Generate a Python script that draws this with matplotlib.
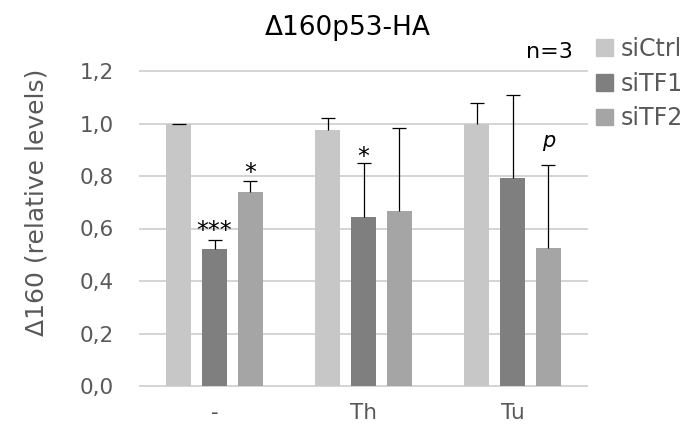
import matplotlib.pyplot as plt
import numpy as np
from matplotlib.patches import Patch

# data
categories = ['-', 'Th', 'Tu']
series_names = ['siCtrl', 'siTF1', 'siTF2']
siCtrl = [1.0, 0.976, 1.0]
siTF1 = [0.523, 0.645, 0.792]
siTF2 = [0.738, 0.666, 0.527]
siCtrl_err = [0.0, 0.046, 0.079]
siTF1_err = [0.032, 0.206, 0.316]
siTF2_err = [0.043, 0.317, 0.313]
yticks = [0.0, 0.2, 0.4, 0.6, 0.8, 1.0, 1.2]
ytick_labels = ['0,0', '0,2', '0,4', '0,6', '0,8', '1,0', '1,2']

# significance marks: (category index, series index, text, y centre)
mark_cat = [0, 0, 1, 2]
mark_series = [1, 2, 1, 2]
mark_text = ['***', '*', '*', 'p']
mark_y = [0.616, 0.838, 0.90, 0.925]

colors = ['#c7c7c7', '#7f7f7f', '#a5a5a5']
text_gray = '#595959'

fig = plt.figure(figsize=(6.97, 4.34), dpi=100)
ax = fig.add_axes([140 / 697, 1 - 386 / 434, 447 / 697, 315 / 434])

x = np.arange(len(categories))
step = 0.2416
width = 0.1725
values = [siCtrl, siTF1, siTF2]
errors = [siCtrl_err, siTF1_err, siTF2_err]

for k in range(3):
    xs = x + (k - 1) * step
    ax.bar(xs, values[k], width=width, color=colors[k], zorder=3)
    eb = ax.errorbar(xs, values[k], yerr=[np.zeros(3), errors[k]], fmt='none',
                     ecolor='black', elinewidth=0.9, capsize=5, capthick=0.9, zorder=4)
    # plus-only error bars: hide the lower caps
    eb[1][0].set_visible(False)

for t in yticks:
    ax.axhline(t, color='#d4d4d4', lw=1.4, zorder=1, clip_on=False)

ax.set_xlim(-0.5, 2.5)
ax.set_ylim(0, 1.2)
ax.set_yticks(yticks)
ax.set_yticklabels(ytick_labels)
ax.set_xticks(x)
ax.set_xticklabels(categories)
ax.tick_params(length=0, labelsize=15.5, colors=text_gray)
ax.tick_params(axis='y', pad=19)
ax.tick_params(axis='x', pad=12)
for s in ax.spines.values():
    s.set_visible(False)

for c, k, t, yv in zip(mark_cat, mark_series, mark_text, mark_y):
    xs = c + (k - 1) * step
    if t == 'p':
        ax.annotate(t, (xs, yv), xytext=(0, -3), textcoords='offset points',
                    ha='center', va='baseline', fontsize=15, style='italic', color='black')
    else:
        ax.annotate(t, (xs, yv), xytext=(0, -10), textcoords='offset points',
                    ha='center', va='baseline', fontsize=17, color='black')

fig.text(348 / 697, 1 - 35 / 434, 'Δ160p53-HA', ha='center', va='baseline', fontsize=19, color='black')
fig.text(573 / 697, 1 - 58 / 434, 'n=3', ha='right', va='baseline', fontsize=16, color='black')
fig.text(37 / 697, 1 - 202 / 434, 'Δ160 (relative levels)', rotation=90, ha='center', va='center',
         fontsize=18, color=text_gray)

handles = [Patch(color=c) for c in colors]
fig.legend(handles, series_names, loc='upper left', bbox_to_anchor=(596 / 697, 1 - 37 / 434),
           frameon=False, fontsize=17, handlelength=0.7, handleheight=0.7,
           handletextpad=0.35, labelspacing=0.45, borderpad=0, borderaxespad=0, labelcolor=text_gray)

fig.savefig('out.png', dpi=100)
